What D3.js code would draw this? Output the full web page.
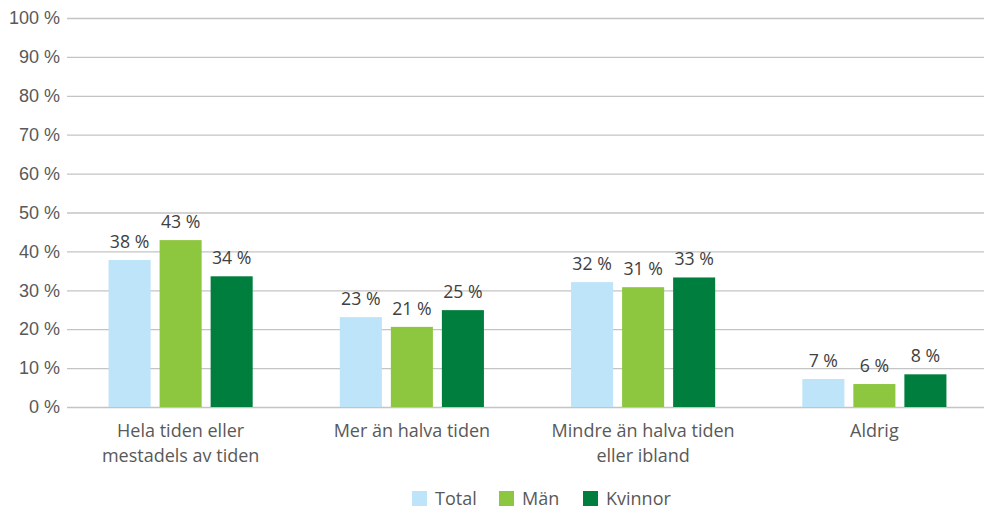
<!DOCTYPE html>
<html>
<head>
<meta charset="utf-8">
<script src="https://cdn.jsdelivr.net/npm/d3@7"></script>
<style>
  body { margin: 0; background: #fff; }
  svg { display: block; font-family: "Open Sans", "Noto Sans", sans-serif; }
</style>
</head>
<body>
<div id="chart"></div>
<script>
// categories, with line breaks as in the original
const categories = [
    ["Hela tiden eller", "mestadels av tiden"],
    ["Mer än halva tiden"],
    ["Mindre än halva tiden", "eller ibland"],
    ["Aldrig"]
]
const seriesNames = ["Total", "Män", "Kvinnor"]
const total = [37.8, 23.1, 32.1, 7.2]
const man = [42.9, 20.6, 30.8, 5.9]
const kvinnor = [33.6, 24.9, 33.3, 8.4]
const yTicks = [0, 10, 20, 30, 40, 50, 60, 70, 80, 90, 100]
const colours = ["#bde4f8", "#8dc63f", "#007e3d"]

const width = 984,
    height = 510

let svg = d3.select('#chart')
    .append('svg')
    .attr('width', width)
    .attr('height', height)

let series = [total, man, kvinnor]

let y = d3.scaleLinear()
    .domain([0, 100])
    .range([407, 18])

let x0 = d3.scaleBand()
    .domain(d3.range(categories.length))
    .range([65, 990])
    .paddingInner(0.338)
    .paddingOuter(0.169)

let x1 = d3.scaleBand()
    .domain(seriesNames)
    .range([0, x0.bandwidth()])
    .paddingInner(0.176)
    .paddingOuter(0.088)

// gridlines and y labels
let yAxis = svg.append('g')
    .attr('transform', 'translate(67,0)')
    .call(d3.axisLeft(y)
        .tickValues(yTicks)
        .tickSize(-(width - 67))
        .tickPadding(7)
        .tickFormat(d => d + ' %'))

yAxis.select('.domain').remove()
yAxis.selectAll('line')
    .attr('stroke', '#c4c4c4')
    .attr('stroke-width', 1.3)
yAxis.selectAll('text')
    .attr('fill', '#595959')
    .style('font-size', '18px')

// bars
let groups = svg.append('g')
    .selectAll('g')
    .data(categories)
    .join('g')
    .attr('transform', (d, i) => `translate(${x0(i)},0)`)

groups.selectAll('rect')
    .data((d, i) => series.map((s, j) => ({ name: seriesNames[j], value: s[i], k: j })))
    .join('rect')
    .attr('x', d => x1(d.name))
    .attr('width', x1.bandwidth())
    .attr('y', d => y(d.value))
    .attr('height', d => y(0) - y(d.value))
    .attr('fill', d => colours[d.k])

groups.selectAll('text.lbl')
    .data((d, i) => series.map((s, j) => ({ name: seriesNames[j], value: s[i] })))
    .join('text')
    .attr('class', 'lbl')
    .attr('x', d => x1(d.name) + x1.bandwidth() / 2)
    .attr('y', d => y(d.value) - 12)
    .attr('text-anchor', 'middle')
    .attr('fill', '#404040')
    .style('font-size', '17.7px')
    .text(d => Math.round(d.value) + ' %')

// category labels
let catLabels = svg.append('g')
    .selectAll('text')
    .data(categories)
    .join('text')
    .attr('x', (d, i) => x0(i) + x0.bandwidth() / 2)
    .attr('y', 437)
    .attr('text-anchor', 'middle')
    .attr('fill', '#595959')
    .style('font-size', '18px')

catLabels.selectAll('tspan')
    .data(d => d)
    .join('tspan')
    .attr('x', function() { return this.parentNode.getAttribute('x') })
    .attr('dy', (d, i) => i == 0 ? 0 : 24.5)
    .text(d => d)

// legend, kept just inside the bottom edge
const legendX = [412, 499, 583]
let legend = svg.append('g')
    .selectAll('g')
    .data(seriesNames)
    .join('g')
    .attr('transform', (d, i) => `translate(${legendX[i]},491)`)

legend.append('rect')
    .attr('width', 15)
    .attr('height', 15)
    .attr('fill', (d, i) => colours[i])

legend.append('text')
    .attr('x', 23)
    .attr('y', 13.5)
    .attr('fill', '#595959')
    .style('font-size', '18px')
    .text(d => d)
</script>
</body>
</html>
